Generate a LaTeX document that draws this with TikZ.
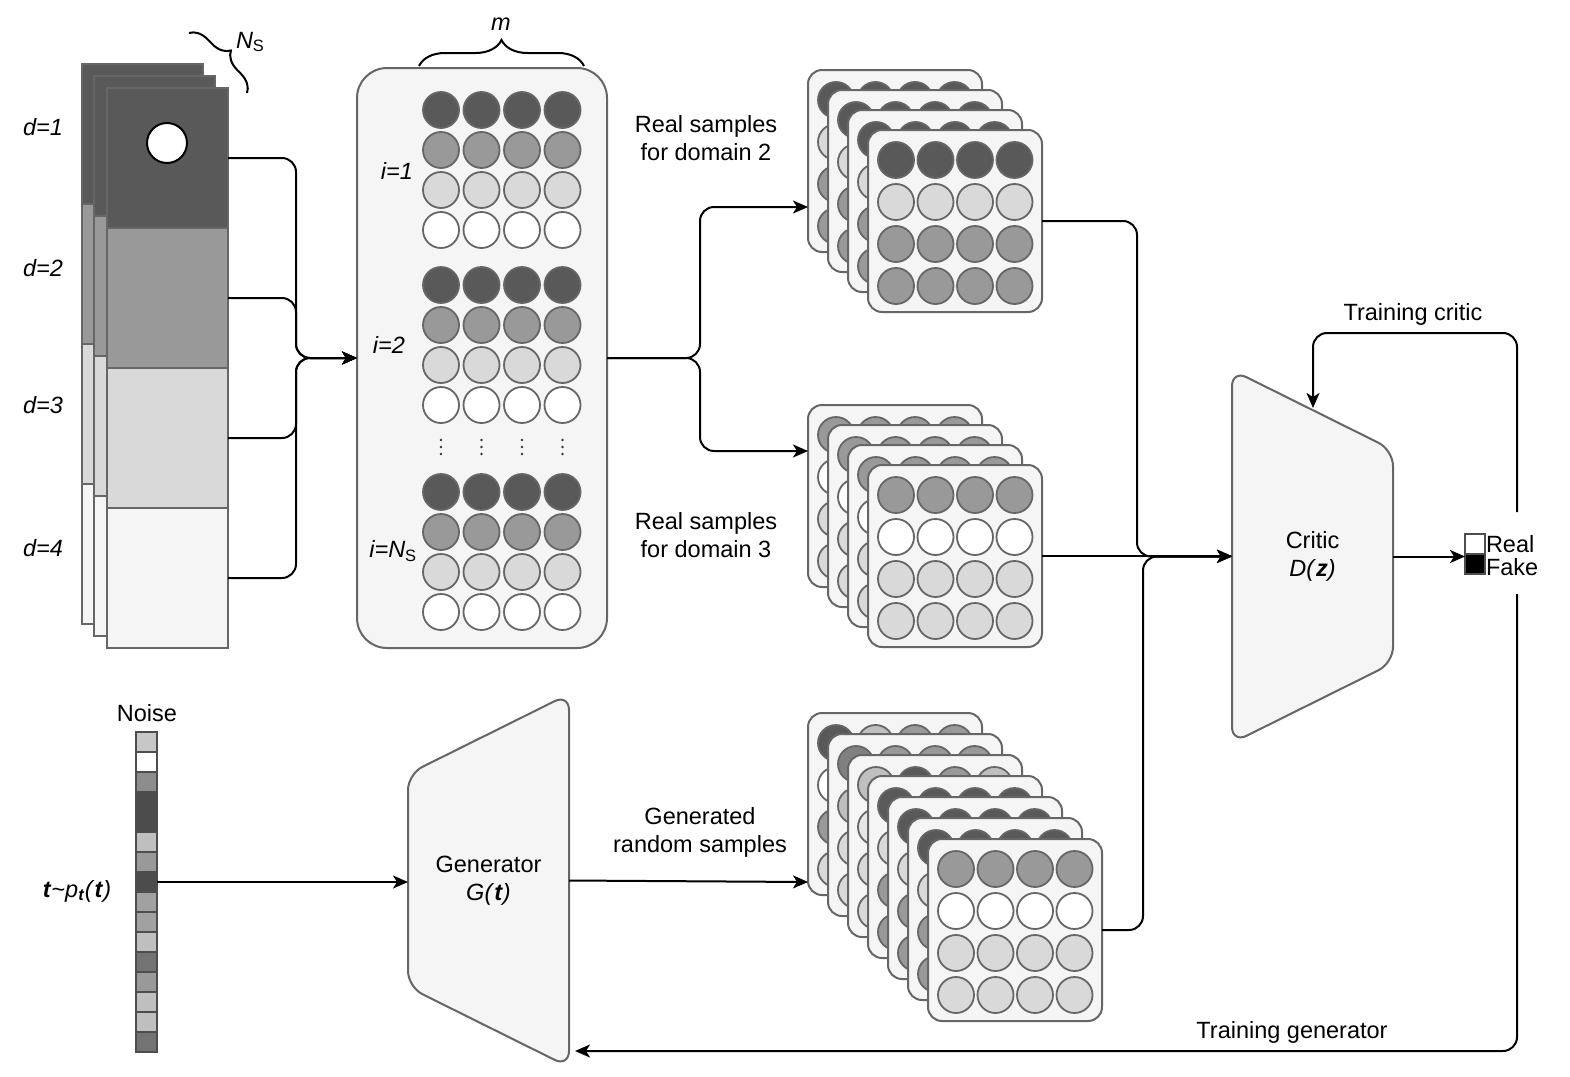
\documentclass[tikz,border=0pt]{standalone}
\usepackage{fontspec}
\setmainfont{Liberation Sans}
\usetikzlibrary{arrows.meta,decorations.pathreplacing,calc}
\definecolor{dk}{HTML}{595959}
\definecolor{md}{HTML}{999999}
\definecolor{lt}{HTML}{D9D9D9}
\definecolor{vl}{HTML}{F5F5F5}
\definecolor{sl}{HTML}{BFBFBF}
\definecolor{mk}{HTML}{808080}
\definecolor{xl}{HTML}{E6E6E6}
\definecolor{edgec}{HTML}{666666}
\definecolor{nd}{HTML}{4D4D4D}
\newcommand\scard[7]{%
  \node[card] (#1) at (#2+87,#3+91) {};
  \foreach \cc [count=\k from 0] in {#4} {\draw[circ,fill=\cc] (#2+28+\k*39.5,#3+30) circle (18pt);}
  \foreach \cc [count=\j from 1] in {#5,#6,#7} {\foreach \k in {0,...,3} {\draw[circ,fill=\cc] (#2+28+\k*39.5,#3+30+\j*42) circle (18pt);}}%
}
\begin{document}
\begin{tikzpicture}[x=1pt,y=-1pt,
  every node/.style={font=\fontsize{23.5}{28}\selectfont, inner sep=0pt, outer sep=0pt},
  card/.style={draw=edgec, fill=vl, line width=2pt, rounded corners=14pt, minimum width=174pt, minimum height=182pt},
  circ/.style={draw=edgec, line width=1.8pt},
  conn/.style={draw=black, line width=2pt, rounded corners=14pt},
  arr/.style={conn, -{Stealth[length=15pt,width=13pt,inset=4pt]}},
  sec/.style={draw=edgec, line width=2pt, minimum width=121pt, minimum height=140pt},
  secr/.style={draw=edgec, line width=2pt},
  shp/.style={draw=edgec, fill=vl, line width=2pt, rounded corners=16pt},
  cell/.style={draw=nd, line width=2pt, minimum width=21pt, minimum height=20pt},
  brc/.style={draw=black, line width=2pt, decorate},
]
\fill[white] (0,0) rectangle (1570,1076);
\useasboundingbox (0,0) rectangle (1570,1076);

% ---- left stack of samples
\foreach \x/\y in {82/64, 94/76} {
  \filldraw[secr, fill=dk] (\x,\y) rectangle (\x+121,\y+140);
  \filldraw[secr, fill=md] (\x,\y+140) rectangle (\x+121,\y+280);
  \filldraw[secr, fill=lt] (\x,\y+280) rectangle (\x+121,\y+420);
  \filldraw[secr, fill=vl] (\x,\y+420) rectangle (\x+121,\y+560);
}
\node[sec, fill=dk] (s1) at (167.5,158) {};
\node[sec, fill=md] (s2) at (167.5,298) {};
\node[sec, fill=lt] (s3) at (167.5,438) {};
\node[sec, fill=vl] (s4) at (167.5,578) {};
\node[draw=black, fill=white, line width=2pt, circle, minimum size=40pt] (hole) at (167,143) {};
\node at (43,127) {\itshape d=1};
\node at (43,268) {\itshape d=2};
\node at (43,405) {\itshape d=3};
\node at (43,548) {\itshape d=4};
\draw[brc, decoration={brace, amplitude=18pt}] (189,33) -- (247,93);
\node[anchor=west] (ns) at (236,42) {\itshape N\textsubscript{\upshape S}};

% ---- middle panel
\node[draw=edgec, fill=vl, line width=2pt, rounded corners=30pt, minimum width=250pt, minimum height=580pt] (mid) at (482,358) {};
\foreach \gy in {110,285,492} {
  \foreach \cc [count=\j from 0] in {dk,md,lt,white} {
    \foreach \k in {0,...,3} {\draw[circ, fill=\cc] (441+\k*40.5,\gy+\j*40) circle (18pt);}
  }
}
\foreach \k in {0,...,3} {\foreach \dy in {440,447,454} {\fill[black!80] (441+\k*40.5,\dy) circle (1.4pt);}}
\node at (397,171) {\itshape i=1};
\node at (389,345) {\itshape i=2};
\node at (393,551) {\itshape i=N\textsubscript{\upshape S}};
\draw[brc, decoration={brace, amplitude=26pt}] (419,66) -- (584,66);
\node (m) at (501,24) {\itshape m};

% ---- left connectors
\draw[arr] (s1.east) -| (296,358) -- (mid.west);
\draw[arr] (s2.east) -| (296,358) -- (mid.west);
\draw[arr] (s3.east) -| (296,358) -- (mid.west);
\draw[arr] (s4.east) -| (296,358) -- (mid.west);

% ---- domain 2 stack
\scard{d2a}{808}{70}{dk,dk,dk,dk}{lt}{md}{md}
\scard{d2b}{828}{90}{dk,dk,dk,dk}{lt}{md}{md}
\scard{d2c}{848}{110}{dk,dk,dk,dk}{lt}{md}{md}
\scard{d2d}{868}{130}{dk,dk,dk,dk}{lt}{md}{md}
% ---- domain 3 stack
\scard{d3a}{808}{405}{md,md,md,md}{white}{lt}{lt}
\scard{d3b}{828}{425}{md,md,md,md}{white}{lt}{lt}
\scard{d3c}{848}{445}{md,md,md,md}{white}{lt}{lt}
\scard{d3d}{868}{465}{md,md,md,md}{white}{lt}{lt}
% ---- generated stack
\scard{g1}{808}{713}{dk,sl,md,md}{white}{md}{lt}
\scard{g2}{828}{734}{mk,md,md,md}{sl}{lt}{lt}
\scard{g3}{848}{755}{sl,dk,md,sl}{xl}{lt}{lt}
\scard{g4}{868}{776}{dk,dk,dk,dk}{lt}{md}{md}
\scard{g5}{888}{797}{dk,dk,dk,dk}{lt}{md}{md}
\scard{g6}{908}{818}{dk,dk,dk,dk}{lt}{md}{md}
\scard{g7}{928}{839}{md,md,md,md}{white}{lt}{lt}

\node[align=center] (l2) at (706,138) {Real samples\\for domain 2};
\node[align=center] (l3) at (706,535) {Real samples\\for domain 3};
\node[align=center] (lg) at (700,832) {Generated\\random samples};

\draw[arr] (mid.east) -- (700,358) |- (808,207);
\draw[arr] (mid.east) -- (700,358) |- (808,451);

% ---- critic
\draw[shp] (1232,370) -- (1393,450) -- (1393,663) -- (1232,743) -- cycle;
\node[align=center, minimum width=161pt, minimum height=373pt] (critic) at (1312.5,556.5) {Critic\\\textit{D(}\textbf{\textit{z}}\textit{)}};

% ---- generator
\draw[shp] (569,694) -- (569,1067) -- (408,987) -- (408,774) -- cycle;
\node[align=center, minimum width=161pt, minimum height=373pt] (gen) at (488.5,880.5) {Generator\\\textit{G(}\textbf{\textit{t}}\textit{)}};

% ---- noise vector
\foreach \cc [count=\i] in {black!22,white,black!45,black!70,black!70,black!25,black!40,black!70,black!37,black!37,black!25,black!55,black!40,black!25,black!25,black!55} {
  \node[cell, fill=\cc] (n\i) at (146.5,722+20*\i) {};
}
\node (noise) at (147,713) {Noise};
\node (tp) at (77,891) {\textbf{\textit{t}}\textasciitilde\textit{p}\textsubscript{\textbf{\textit{t}}}\textit{(}\textbf{\textit{t}}\textit{)}};

% ---- real/fake
\node[draw=nd, fill=white, line width=2pt, minimum width=20pt, minimum height=20pt] (rbox) at (1475,544) {};
\node[draw=nd, fill=black, line width=2pt, minimum width=20pt, minimum height=20pt] (fbox) at (1475,564) {};
\node[anchor=west] (real) at (1486,544) {Real};
\node[anchor=west] (fake) at (1486,567) {Fake};

% ---- connectors to critic
\draw[arr] (d2d.east) -| (1137,556.5) -- (critic.west);
\draw[arr] (d3d.east) -- (d3d.east -| critic.west);
\draw[arr] (g7.east) -| (1143,556.5) -- (critic.west);
\draw[arr] (n8.east) -- (n8.east -| gen.west);
\draw[arr] (gen.east) -- (808,882);
\draw[arr] (critic.east) -- (critic.east -| rbox.west);

\coordinate (tc) at (1517,512);
\coordinate (tg) at (1517,594);
\draw[arr] (tc) |- (1313,333) -- (1313,408);
\draw[arr] (tg) |- (575,1051);
\node (ltc) at (1413,314) {Training critic};
\node (ltg) at (1292,1032) {Training generator};
\end{tikzpicture}
\end{document}
